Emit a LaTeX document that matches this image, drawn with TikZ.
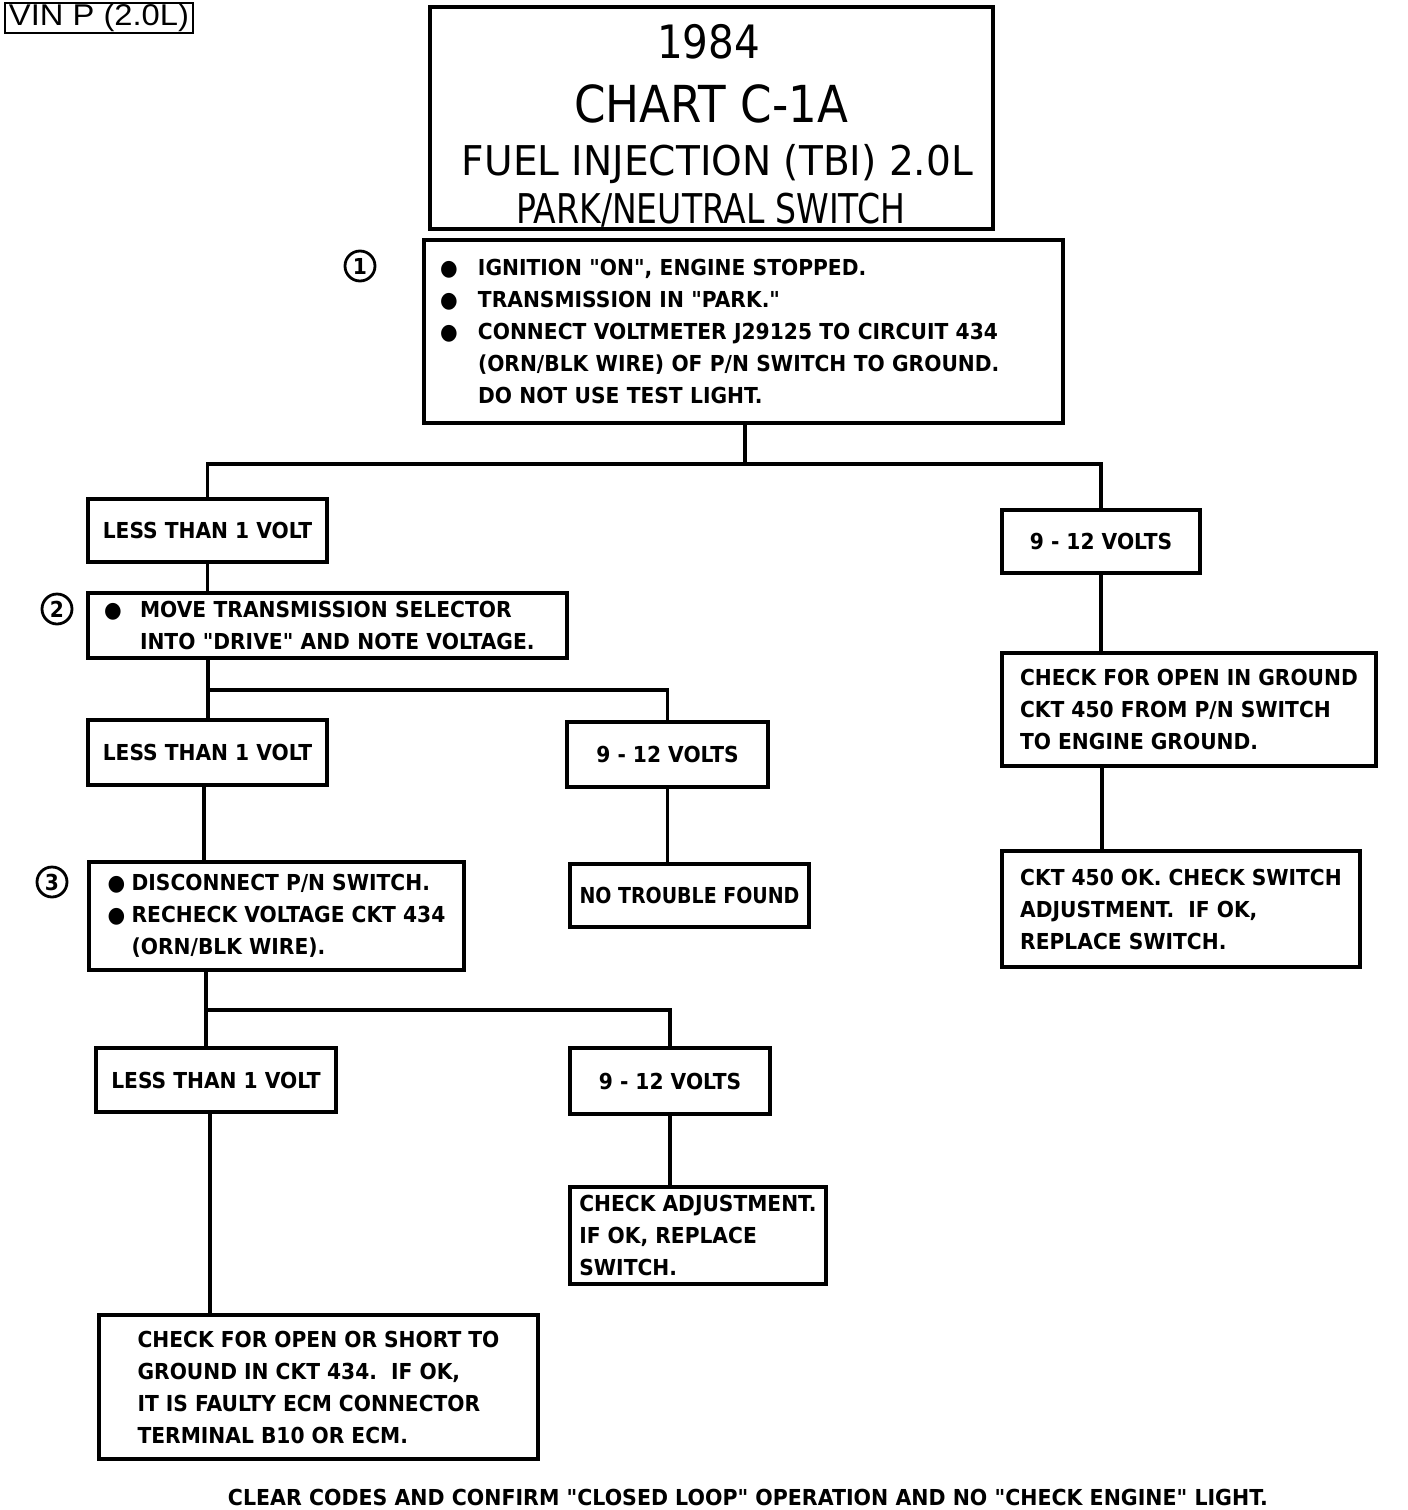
\documentclass[tikz,border=0pt]{standalone}
\usepackage{fontspec}
\usepackage{graphicx}
\setmainfont{DejaVu Sans}[FakeStretch=0.92, Ligatures=TeXOff]
\newfontfamily\vinfont{Liberation Sans}
\newfontfamily\titlefont{DejaVu Sans}
\newcommand\bul[1]{\makebox[#1][l]{●}}
\newcommand\fitw[2]{\resizebox{#1}{\height}{#2}}
\tikzset{
  box/.style={draw, line width=3.2pt, inner sep=0pt, align=left,
              font=\bfseries\fontsize{22}{32}\selectfont},
  cbox/.style={box, align=center},
  conn/.style={line width=3.2pt},
  num/.style={circle, draw, line width=2.8pt, minimum size=30pt, inner sep=0pt,
              font=\bfseries\fontsize{22}{22}\selectfont},
  ttl/.style={anchor=base, inner sep=0pt, font=\titlefont},
}
\begin{document}
\begin{tikzpicture}[x=1pt, y=-1pt]
\useasboundingbox[fill=white] (0,0) rectangle (1408,1510);

% VIN label
\node[draw, line width=1.8pt, minimum width=188pt, minimum height=30pt, inner sep=0pt]
  (vin) at (99,18) {\fitw{180pt}{\vinfont\fontsize{30}{30}\selectfont VIN P (2.0L)}};

% title
\node[draw, line width=3.2pt, minimum width=563pt, minimum height=222pt] (title) at (711.5,118) {};
\node[ttl] (t1) at (708.5,58) {\fitw{103pt}{\fontsize{46}{46}\selectfont 1984}};
\node[ttl] (t2) at (711,122) {\fitw{274pt}{\fontsize{51}{51}\selectfont CHART C-1A}};
\node[ttl] (t3) at (717.5,175) {\fitw{511pt}{\fontsize{41}{41}\selectfont FUEL INJECTION (TBI) 2.0L}};
\node[ttl] (t4) at (710.5,223) {\fitw{389pt}{\fontsize{41}{41}\selectfont PARK/NEUTRAL SWITCH}};

% step numbers
\node[num] (c1) at (360,266) {1};
\node[num] (c2) at (57,609) {2};
\node[num] (c3) at (52,882) {3};

% boxes
\node[box, minimum width=639pt, minimum height=183pt, text width=607pt] (b1) at (743.5,331.5)
 {\bul{38pt}IGNITION "ON", ENGINE STOPPED.\\
  \bul{38pt}TRANSMISSION IN "PARK."\\
  \bul{38pt}CONNECT VOLTMETER J29125 TO CIRCUIT 434\\
  \hspace*{38pt}(ORN/BLK WIRE) OF P/N SWITCH TO GROUND.\\
  \hspace*{38pt}DO NOT USE TEST LIGHT.};

\node[cbox, minimum width=239pt, minimum height=63pt] (l1) at (207.5,530.5) {LESS THAN 1 VOLT};
\node[cbox, minimum width=198pt, minimum height=63pt] (r1) at (1101,541.5) {9 - 12 VOLTS};

\node[box, minimum width=374pt, minimum height=113pt] (r2) at (1189,709.5)
 {CHECK FOR OPEN IN GROUND\\CKT 450 FROM P/N SWITCH\\TO ENGINE GROUND.};
\node[box, minimum width=358pt, minimum height=116pt] (r3) at (1181,909)
 {CKT 450 OK. CHECK SWITCH\\ADJUSTMENT.\ \ IF OK,\\REPLACE SWITCH.};

\node[box, minimum width=479pt, minimum height=65pt, text width=447pt] (b2) at (327.5,625.5)
 {\bul{36pt}MOVE TRANSMISSION SELECTOR\\
  \hspace*{36pt}INTO "DRIVE" AND NOTE VOLTAGE.};

\node[cbox, minimum width=239pt, minimum height=65pt] (l2) at (207.5,752.5) {LESS THAN 1 VOLT};
\node[cbox, minimum width=201pt, minimum height=65pt] (m2) at (667.5,754.5) {9 - 12 VOLTS};
\node[cbox, minimum width=239pt, minimum height=63pt] (ntf) at (689.5,895.5) {\fitw{220pt}{NO TROUBLE FOUND}};

\node[box, minimum width=375pt, minimum height=108pt] (b3) at (276.5,916)
 {\bul{24pt}DISCONNECT P/N SWITCH.\\
  \bul{24pt}RECHECK VOLTAGE CKT 434\\
  \hspace*{24pt}(ORN/BLK WIRE).};

\node[cbox, minimum width=240pt, minimum height=64pt] (l3) at (216,1080) {LESS THAN 1 VOLT};
\node[cbox, minimum width=200pt, minimum height=66pt] (m3) at (670,1081) {9 - 12 VOLTS};

\node[box, minimum width=256pt, minimum height=97pt] (ca) at (698,1235.5)
 {CHECK ADJUSTMENT.\\IF OK, REPLACE\\SWITCH.};

\node[box, minimum width=439pt, minimum height=144pt] (f) at (318.5,1387)
 {CHECK FOR OPEN OR SHORT TO\\GROUND IN CKT 434.\ \ IF OK,\\IT IS FAULTY ECM CONNECTOR\\TERMINAL B10 OR ECM.};

\node[anchor=base, inner sep=0pt] (foot) at (748,1505)
 {\fitw{1040pt}{\bfseries\fontsize{22}{22}\selectfont CLEAR CODES AND CONFIRM "CLOSED LOOP" OPERATION AND NO "CHECK ENGINE" LIGHT.}};

% connectors
\coordinate (j1) at (745,464);
\draw[conn] (b1.south -| j1) -- (j1);
\draw[conn] (l1.north) |- (j1) -| (r1.north);
\draw[conn] (l1.south) -- (l1.south |- b2.north);

\coordinate (j2) at (208,690);
\draw[conn] (b2.south -| j2) -- (l2.north -| j2);
\draw[conn] (j2) -| (m2.north);
\draw[conn] (m2.south) -- (m2.south |- ntf.north);

\coordinate (x204) at (204,0);
\draw[conn] (l2.south -| x204) -- (b3.north -| x204);

\coordinate (j3) at (206,1010);
\draw[conn] (b3.south -| j3) -- (l3.north -| j3);
\draw[conn] (j3) -| (m3.north);
\draw[conn] (m3.south) -- (m3.south |- ca.north);

\coordinate (x210) at (210,0);
\draw[conn] (l3.south -| x210) -- (f.north -| x210);

\draw[conn] (r1.south) -- (r1.south |- r2.north);
\coordinate (x1102) at (1102,0);
\draw[conn] (r2.south -| x1102) -- (r3.north -| x1102);
\end{tikzpicture}
\end{document}
